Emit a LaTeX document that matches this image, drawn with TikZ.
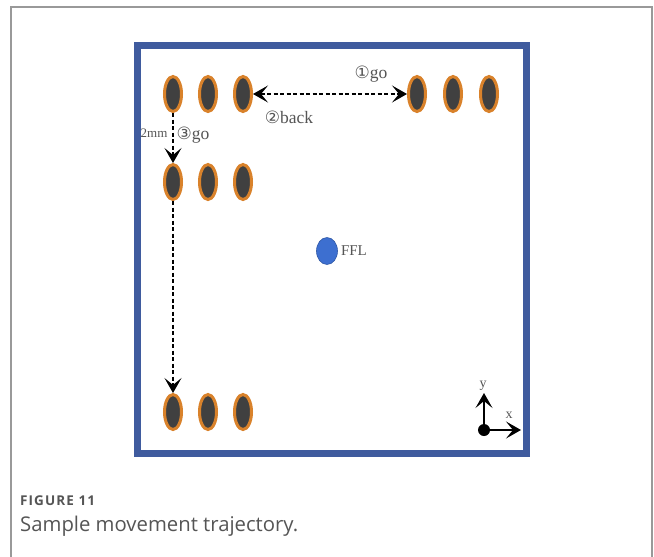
\documentclass[tikz,border=0pt]{standalone}
\usepackage{fontspec}
\setmainfont{Liberation Serif}
\newfontfamily\circfont{DejaVu Sans}
\newfontfamily\capfont{Open Sans}
\usetikzlibrary{arrows.meta,shapes.geometric}
\definecolor{boxblue}{HTML}{3F5B9E}
\definecolor{ringorange}{HTML}{D9822B}
\definecolor{coredark}{HTML}{404040}
\definecolor{fflblue}{HTML}{3D6FD0}
\definecolor{txtgray}{HTML}{555555}
\newcommand\circd[1]{{\circfont\fontsize{17}{18}\selectfont #1}}
\tikzset{
  sample/.style={ellipse, draw=ringorange, line width=3pt, fill=coredark, minimum width=17pt, minimum height=35pt, inner sep=0pt},
  lbl/.style={font=\fontsize{17.5}{19}\selectfont, text=txtgray, inner sep=0pt},
  mv/.style={line width=1.1pt, dash pattern=on 4pt off 2.5pt},
  tip/.style={-{Stealth[length=15pt,width=17pt,inset=7pt]}},
  tipb/.style={{Stealth[length=15pt,width=17pt,inset=7pt]}-{Stealth[length=15pt,width=17pt,inset=7pt]}}
}
\begin{document}
\begin{tikzpicture}[x=1pt,y=-1pt]
\useasboundingbox (0,0) rectangle (654,557);
\fill[white] (0,0) rectangle (654,557);
% outer frame
\draw[gray!80, line width=1.2pt] (11,560) -- (11,7) -- (652,7) -- (652,560);
% blue box
\draw[boxblue, line width=7pt] (137.5,45.5) rectangle (526.5,453.5);
% samples
\node[sample] (a1) at (173,94) {};
\node[sample] (a2) at (208,94) {};
\node[sample] (a3) at (243,94) {};
\node[sample] (b1) at (417,94) {};
\node[sample] (b2) at (453,94) {};
\node[sample] (b3) at (489,94) {};
\node[sample] (c1) at (173,182) {};
\node[sample] (c2) at (208,182) {};
\node[sample] (c3) at (243,182) {};
\node[sample] (d1) at (173,412) {};
\node[sample] (d2) at (208,412) {};
\node[sample] (d3) at (243,412) {};
% movements
\draw[mv, tipb] (a3.east) -- (b1.west);
\draw[mv, tip] (a1.south) -- (c1.north);
\draw[mv, tip] (c1.south) -- (d1.north);
\node[lbl] (l1) at (371,74) {\circd{①}go};
\node[lbl] (l2) at (289,117) {\circd{②}back};
\node[lbl, font=\fontsize{13}{15}\selectfont] (l3) at (154,133) {2mm};
\node[lbl] (l4) at (193,135) {\circd{③}go};
% FFL
\node[ellipse, fill=fflblue, draw=fflblue!80!black, line width=0.6pt, minimum width=21pt, minimum height=27pt, inner sep=0pt] (ffl) at (327,251) {};
\node[lbl, anchor=west, xshift=3pt, font=\fontsize{15}{17}\selectfont] (fl) at (ffl.east) {FFL};
% axes
\fill (484,430) circle (6pt);
\coordinate (o) at (484,430);
\coordinate (ye) at (484,393);
\coordinate (xe) at (521,430);
\draw[line width=1.3pt, tip] (o) -- (ye);
\draw[line width=1.3pt, tip] (o) -- (xe);
\node[lbl, font=\fontsize{14}{16}\selectfont] (ly) at (483,386) {y};
\node[lbl, font=\fontsize{14}{16}\selectfont] (lx) at (509,415) {x};
% caption
\node[anchor=base west, inner sep=0pt, text=txtgray, font=\capfont\fontsize{13.5}{15}\selectfont\bfseries\addfontfeature{LetterSpace=8}] (f11) at (20,505) {FIGURE 11};
\node[anchor=base west, inner sep=0pt, text=txtgray, font=\capfont\fontsize{20.3}{23}\selectfont] (cap) at (20,531) {Sample movement trajectory.};
\end{tikzpicture}
\end{document}
